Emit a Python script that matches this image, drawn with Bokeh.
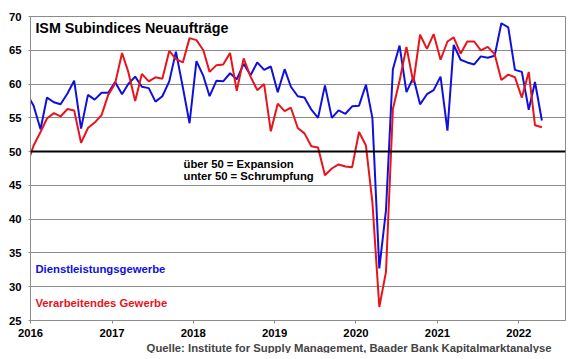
import pandas as pd
from bokeh.plotting import figure
from bokeh.models import Range1d, FixedTicker, Span, Label, Title, DatetimeTickFormatter
from bokeh.embed import file_html
from bokeh.resources import INLINE

FONT = "Liberation Sans"
BLUE = "#1010dd"
RED = "#e8141c"
GRID = "#8c8c8c"

# monthly observations, Dec 2015 .. Apr 2022 (Dec 2015 lies left of the visible range)
months = pd.date_range("2015-12-01", "2022-04-01", freq="MS")

dienstleistung = [58.6,
    56.8, 53.3, 58.0, 57.3, 57.0, 58.6, 60.5, 53.4, 58.4, 57.7, 58.7, 58.7,
    60.3, 58.5, 60.0, 61.1, 59.6, 59.4, 57.4, 58.2, 60.4, 64.8, 59.5, 54.2,
    63.4, 61.2, 58.2, 60.5, 60.4, 61.6, 60.7, 63.0, 61.3, 63.2, 62.1, 62.6,
    58.8, 62.2, 59.6, 58.2, 58.0, 56.2, 55.0, 59.8, 55.0, 56.1, 55.6, 56.7,
    56.8, 59.9, 55.0, 32.7, 41.3, 62.2, 65.7, 58.8, 61.0, 57.0, 58.5, 59.1,
    61.1, 53.1, 65.8, 63.6, 63.2, 62.9, 64.1, 63.9, 64.2, 69.0, 68.4, 62.1,
    61.8, 56.2, 60.3, 54.6]

verarbeitend = [47.9,
    50.9, 52.9, 54.9, 55.7, 55.2, 56.3, 56.1, 51.3, 53.5, 54.3, 55.4, 58.4,
    60.1, 64.6, 61.8, 57.5, 61.5, 60.4, 61.0, 60.8, 64.9, 63.7, 63.2, 66.8,
    66.5, 65.0, 61.8, 62.8, 62.9, 64.6, 59.0, 63.8, 61.1, 59.1, 60.0, 53.0,
    57.1, 56.0, 56.5, 53.5, 52.7, 50.8, 50.6, 46.5, 47.5, 48.1, 47.8, 47.7,
    52.9, 50.9, 42.5, 27.0, 32.2, 56.3, 60.5, 65.5, 60.2, 67.3, 65.2, 67.4,
    63.6, 66.3, 66.9, 64.5, 66.3, 66.3, 65.0, 65.5, 64.4, 60.6, 61.4, 61.0,
    58.0, 61.8, 53.9, 53.6]

years = [2016, 2017, 2018, 2019, 2020, 2021, 2022]
y_ticks = [25, 30, 35, 40, 45, 50, 55, 60, 65, 70]

x = months + pd.Timedelta(days=14)


def ms(ts):
    return pd.Timestamp(ts).value / 1e6


p = figure(x_axis_type="datetime", frame_width=535, frame_height=304,
           x_range=Range1d(ms("2016-01-01"), ms("2022-07-30")),
           y_range=Range1d(25, 70),
           output_backend="svg", toolbar_location=None,
           min_border_left=30, min_border_right=12, min_border_top=16,
           min_border_bottom=0)

p.background_fill_color = "white"
p.border_fill_color = "white"
p.outline_line_color = GRID
p.outline_line_width = 1

p.xgrid.visible = False
p.ygrid.ticker = FixedTicker(ticks=y_ticks)
p.ygrid.grid_line_color = GRID
p.ygrid.grid_line_width = 1

p.yaxis.ticker = FixedTicker(ticks=y_ticks)
p.xaxis.ticker = FixedTicker(ticks=[ms(f"{y}-01-01") for y in years])
p.xaxis.formatter = DatetimeTickFormatter(years="%Y", months="%Y", days="%Y",
                                          hours="%Y", minutes="%Y", seconds="%Y")
for ax in (p.xaxis[0], p.yaxis[0]):
    ax.axis_line_color = GRID
    ax.major_tick_line_color = GRID
    ax.minor_tick_line_color = None
    ax.major_label_text_font = FONT
    ax.major_label_text_font_style = "bold"
    ax.major_label_text_font_size = "11.3px"
    ax.major_label_text_color = "black"
p.yaxis.major_tick_in = 0
p.yaxis.major_tick_out = 2
p.yaxis.major_label_standoff = 7
p.xaxis.major_tick_in = 0
p.xaxis.major_tick_out = 3
p.xaxis.major_label_standoff = 5

p.line(x, dienstleistung, color=BLUE, line_width=2)
p.line(x, verarbeitend, color=RED, line_width=2)

p.add_layout(Span(location=50, dimension="width", line_color="black", line_width=2))


def label(xd, y, text, color="black", size="11.3px"):
    p.add_layout(Label(x=ms(xd), y=y, text=text, text_color=color,
                       text_font=FONT, text_font_style="bold",
                       text_font_size=size, text_baseline="middle",
                       text_align="left"))


label("2016-01-23", 68.3, "ISM Subindices Neuaufträge", size="14.3px")
label("2017-11-18", 48.2, "über 50 = Expansion")
label("2017-11-18", 46.4, "unter 50 = Schrumpfung")
label("2016-01-23", 32.6, "Dienstleistungsgewerbe", color=BLUE)
label("2016-01-23", 27.6, "Verarbeitendes Gewerbe", color=RED)

p.add_layout(Title(text="Quelle: Institute for Supply Management, Baader Bank Kapitalmarktanalyse",
                   align="right", text_font=FONT, text_font_style="bold",
                   text_font_size="11.3px", offset=14, standoff=0), "below")

open("out.html", "w").write(file_html(p, INLINE))
